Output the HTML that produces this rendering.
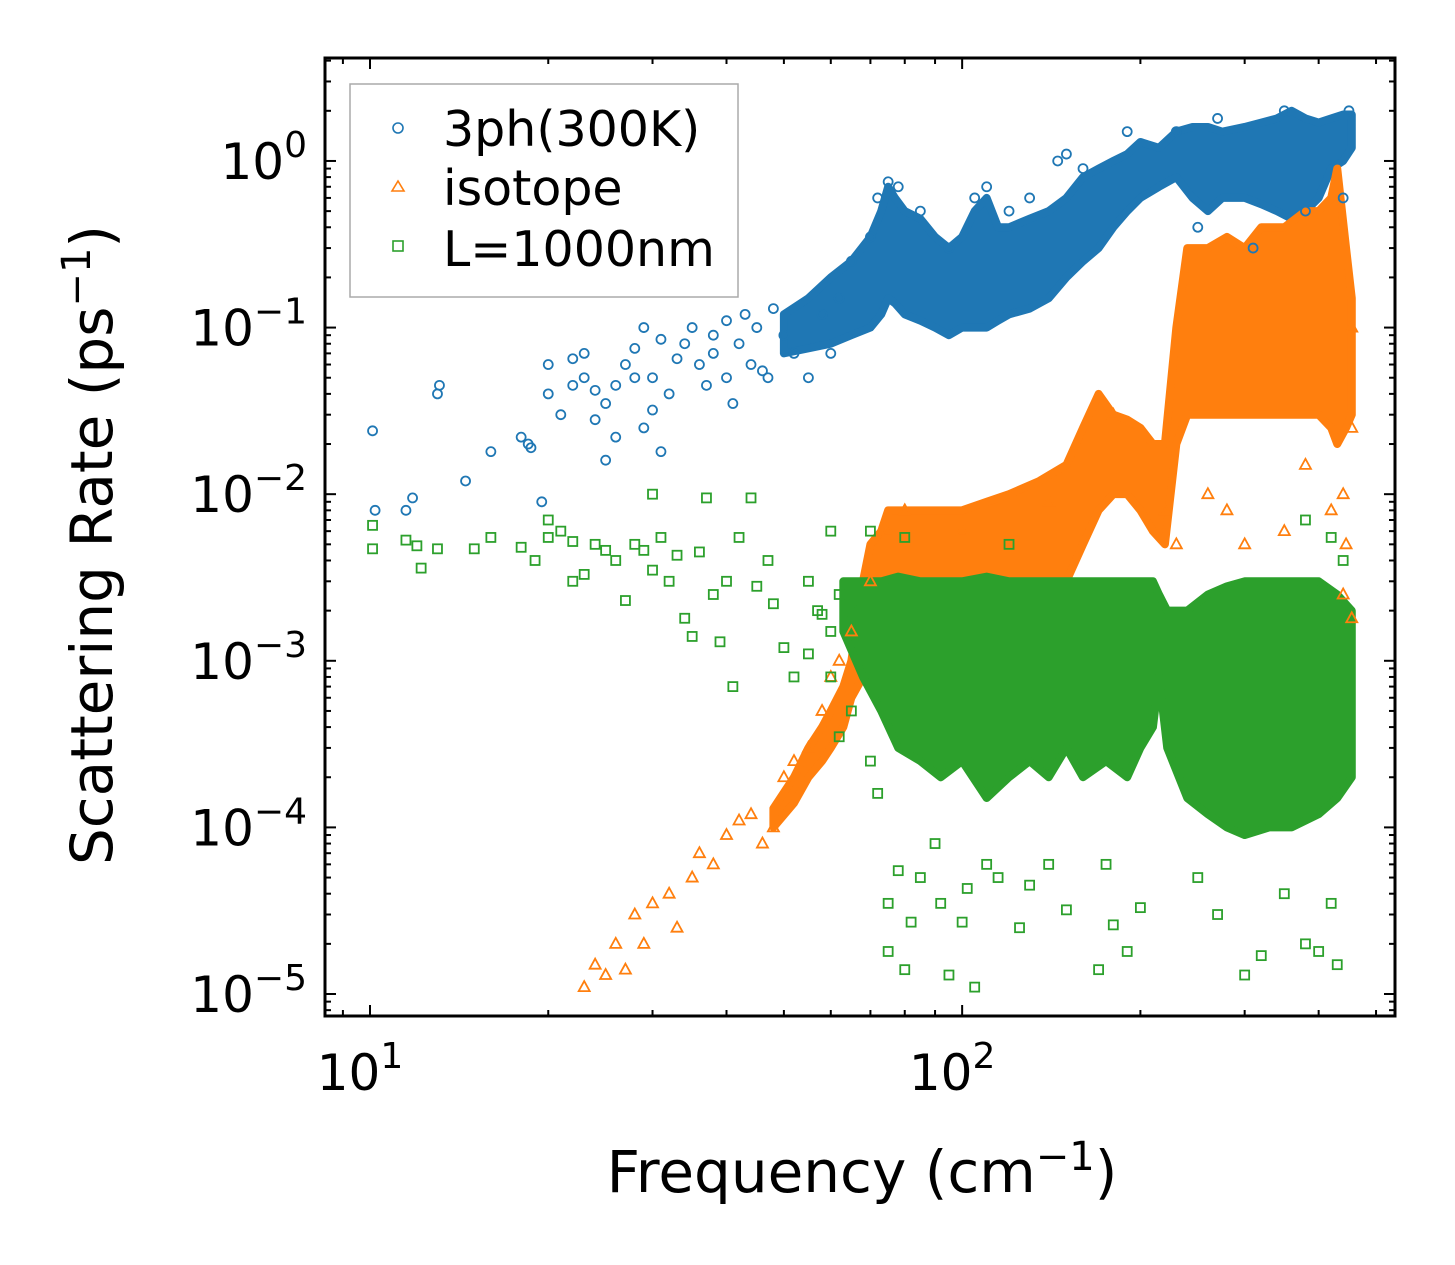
<!DOCTYPE html>
<html><head><meta charset="utf-8">
<style>
html,body{margin:0;padding:0;background:#fff;}
svg{display:block;font-family:"DejaVu Sans","Liberation Sans",sans-serif;}
</style></head>
<body>
<svg id="chart" width="1455" height="1265" viewBox="0 0 1455 1265" xmlns="http://www.w3.org/2000/svg">
<g id="bands"></g>
<g id="marks"></g>
<rect x="325" y="58" width="1070" height="958" fill="none" stroke="#000" stroke-width="3"/>
<g id="ticks"></g>
<text x="862" y="1192" font-size="58" text-anchor="middle">Frequency (cm<tspan dy="-22" font-size="40">−1</tspan><tspan dy="22">)</tspan></text>
<text transform="translate(112,545) rotate(-90)" font-size="58" text-anchor="middle">Scattering Rate (ps<tspan dy="-22" font-size="40">−1</tspan><tspan dy="22">)</tspan></text>
<g>
<rect x="350" y="84" width="388" height="213" fill="#fff" fill-opacity="0.8" stroke="#aaa" stroke-width="1.5"/>
<g><circle cx="398" cy="128" r="5" fill="none" stroke="#1f77b4" stroke-width="1.6"/><text x="443" y="146" font-size="49">3ph(300K)</text></g>
<g><polygon points="398,181 404,191 392,191" fill="none" stroke="#ff7f0e" stroke-width="1.6"/><text x="443" y="205" font-size="49">isotope</text></g>
<g><rect x="393" y="241" width="10" height="10" fill="none" stroke="#2ca02c" stroke-width="1.6"/><text x="443" y="266" font-size="49">L=1000nm</text></g>
</g>
</svg>
<script>
const blueBandF=[50,55,60,65,70,73,75,77,80,85,90,95,100,105,110,115,120,130,140,150,160,170,180,190,200,215,230,245,260,275,300,320,340,360,380,400,420,440,455];
const blueBandLo=[0.07,0.075,0.08,0.09,0.1,0.12,0.15,0.14,0.12,0.11,0.1,0.09,0.1,0.1,0.1,0.11,0.12,0.13,0.15,0.2,0.25,0.3,0.4,0.5,0.6,0.7,0.8,0.6,0.5,0.6,0.6,0.55,0.5,0.45,0.5,0.6,0.9,1.0,1.2];
const blueBandHi=[0.12,0.15,0.2,0.25,0.35,0.5,0.7,0.6,0.5,0.45,0.35,0.3,0.35,0.5,0.6,0.4,0.4,0.45,0.5,0.6,0.8,0.9,1.0,1.1,1.3,1.2,1.5,1.6,1.6,1.5,1.6,1.7,1.8,2.0,1.8,1.7,1.8,1.9,1.9];
const orangeBandF=[48,52,55,58,60,63,65,68,70,73,75,80,90,100,110,120,135,150,160,170,180,190,200,210,220,230,240,260,280,300,320,350,380,400,420,430,445,455];
const orangeBandLo=[1e-4,1.4e-4,2e-4,2.5e-4,3e-4,4e-4,6e-4,8e-4,1e-3,1.3e-3,1.5e-3,1.5e-3,2e-3,2e-3,2e-3,2e-3,2.5e-3,3e-3,5e-3,8e-3,1e-2,1e-2,8e-3,6e-3,5e-3,2e-2,3e-2,3e-2,3e-2,3e-2,3e-2,3e-2,3e-2,3e-2,2.5e-2,2e-2,2.5e-2,3e-2];
const orangeBandHi=[1.3e-4,2e-4,3e-4,4e-4,5e-4,7e-4,1e-3,3e-3,5e-3,6e-3,8e-3,8e-3,8e-3,8e-3,9e-3,1e-2,1.2e-2,1.5e-2,2.5e-2,4e-2,3e-2,2.8e-2,2.5e-2,2e-2,2e-2,1e-1,3e-1,3e-1,3.5e-1,3e-1,4e-1,4e-1,5e-1,5e-1,6e-1,9e-1,3e-1,1.5e-1];
const greenBandF=[63,68,73,78,85,92,100,110,120,130,140,150,160,175,190,200,210,215,222,240,260,280,300,330,360,400,430,455];
const greenBandLo=[1.5e-3,8e-4,5e-4,3e-4,2.5e-4,2e-4,2.5e-4,1.5e-4,2e-4,2.5e-4,2e-4,3e-4,2e-4,2.5e-4,2e-4,3e-4,4e-4,8e-4,3e-4,1.5e-4,1.2e-4,1e-4,9e-5,1e-4,1e-4,1.2e-4,1.5e-4,2e-4];
const greenBandHi=[3e-3,3e-3,3e-3,3.2e-3,3e-3,3e-3,3e-3,3.2e-3,3e-3,3e-3,3e-3,3e-3,3e-3,3e-3,3e-3,3e-3,3e-3,2.5e-3,2e-3,2e-3,2.5e-3,2.8e-3,3e-3,3e-3,3e-3,3e-3,2.5e-3,2e-3];
const blueF=[10.1,10.2,11.5,11.8,13,13.1,14.5,16,18,18.5,18.7,19.5,20,20,21,22,22,23,23,24,24,25,25,26,26,27,28,28,29,29,30,30,31,31,32,33,34,35,36,37,38,38,40,40,41,42,43,44,45,46,47,48,50,52,55,58,60,62,65,70,72,75,78,85,95,105,110,120,130,145,150,160,190,230,250,270,310,350,380,450,440];
const blueR=[0.024,0.008,0.008,0.0095,0.04,0.045,0.012,0.018,0.022,0.02,0.019,0.009,0.04,0.06,0.03,0.045,0.065,0.05,0.07,0.028,0.042,0.035,0.016,0.022,0.045,0.06,0.075,0.05,0.025,0.1,0.05,0.032,0.085,0.018,0.04,0.065,0.08,0.1,0.06,0.045,0.09,0.07,0.11,0.05,0.035,0.08,0.12,0.06,0.1,0.055,0.05,0.13,0.09,0.07,0.05,0.12,0.07,0.15,0.25,0.35,0.6,0.75,0.7,0.5,0.3,0.6,0.7,0.5,0.6,1.0,1.1,0.9,1.5,1.5,0.4,1.8,0.3,2.0,0.5,2.0,0.6];
const orangeF=[23,24,25,26,27,28,29,30,32,33,35,36,38,40,42,44,46,48,50,52,55,58,60,62,65,70,75,80,100,140,180,220,230,260,280,300,350,380,420,440,440,445,455,455,455];
const orangeR=[1.1e-5,1.5e-5,1.3e-5,2e-5,1.4e-5,3e-5,2e-5,3.5e-5,4e-5,2.5e-5,5e-5,7e-5,6e-5,9e-5,1.1e-4,1.2e-4,8e-5,1e-4,2e-4,2.5e-4,3e-4,5e-4,8e-4,1e-3,1.5e-3,3e-3,6e-3,8e-3,6e-3,9e-3,3e-2,8e-3,5e-3,1e-2,8e-3,5e-3,6e-3,1.5e-2,8e-3,1e-2,2.5e-3,5e-3,2.5e-2,0.1,1.8e-3];
const greenF=[10.1,10.1,11.5,12,12.2,13,15,16,18,19,20,20,21,22,22,23,24,25,26,27,28,29,30,30,31,32,33,34,35,36,37,38,39,40,41,42,44,45,47,48,50,52,55,58,60,62,65,70,72,75,75,78,80,82,85,90,92,95,100,102,105,110,115,125,130,140,150,170,175,180,190,200,250,270,300,320,350,380,400,430,420,420,440,380,120,70,80,60,55,57,60,62,65,68];
const greenR=[0.0065,0.0047,0.0053,0.0049,0.0036,0.0047,0.0047,0.0055,0.0048,0.004,0.007,0.0055,0.006,0.003,0.0052,0.0033,0.005,0.0046,0.004,0.0023,0.005,0.0046,0.0035,0.01,0.0055,0.003,0.0043,0.0018,0.0014,0.0045,0.0095,0.0025,0.0013,0.003,0.0007,0.0055,0.0095,0.0028,0.004,0.0022,0.0012,0.0008,0.0011,0.0019,0.0008,0.00035,0.0005,0.00025,0.00016,3.5e-5,1.8e-5,5.5e-5,1.4e-5,2.7e-5,5e-5,8e-5,3.5e-5,1.3e-5,2.7e-5,4.3e-5,1.1e-5,6e-5,5e-5,2.5e-5,4.5e-5,6e-5,3.2e-5,1.4e-5,6e-5,2.6e-5,1.8e-5,3.3e-5,5e-5,3e-5,1.3e-5,1.7e-5,4e-5,2e-5,1.8e-5,1.5e-5,3.5e-5,0.0055,0.004,0.007,0.005,0.006,0.0055,0.006,0.003,0.002,0.0015,0.0025,0.002,0.0012];
const xTickLabels=["1","2"];
const yTickExps=[0,-1,-2,-3,-4,-5];

const NS="http://www.w3.org/2000/svg";
const X0=325,X1=1395,Y0=58,Y1=1016;
const xLmin=0.924,xLmax=2.731,yLmin=-5.132,yLmax=0.618;
function sx(f){return X0+(Math.log10(f)-xLmin)/(xLmax-xLmin)*(X1-X0);}
function sy(v){return Y1-(Math.log10(v)-yLmin)/(yLmax-yLmin)*(Y1-Y0);}
function mk(tag,attrs,parent){const e=document.createElementNS(NS,tag);for(const k in attrs)e.setAttribute(k,attrs[k]);parent.appendChild(e);return e;}
const bands=document.getElementById('bands'),marks=document.getElementById('marks'),ticks=document.getElementById('ticks');
function band(F,Lo,Hi,color,name){
  let pts=[];
  for(let i=0;i<F.length;i++)pts.push(sx(F[i])+','+sy(Hi[i]));
  for(let i=F.length-1;i>=0;i--)pts.push(sx(F[i])+','+sy(Lo[i]));
  const p=mk('polygon',{points:pts.join(' '),fill:color,stroke:color,'stroke-width':8,'stroke-linejoin':'round'},bands);
  
  
}
function circles(F,R){for(let i=0;i<F.length;i++){const c=mk('circle',{cx:sx(F[i]),cy:sy(R[i]),r:4.5,fill:'none',stroke:'#1f77b4','stroke-width':1.8},marks);

}}
function tris(F,R){for(let i=0;i<F.length;i++){const x=sx(F[i]),y=sy(R[i]);const t=mk('polygon',{points:`${x},${y-6} ${x+5.5},${y+4} ${x-5.5},${y+4}`,fill:'none',stroke:'#ff7f0e','stroke-width':1.8},marks);

}}
function squares(F,R){for(let i=0;i<F.length;i++){const x=sx(F[i]),y=sy(R[i]);const s=mk('rect',{x:x-4.5,y:y-4.5,width:9,height:9,fill:'none',stroke:'#2ca02c','stroke-width':1.8},marks);

}}
band(blueBandF,blueBandLo,blueBandHi,'#1f77b4','band-3ph');
band(orangeBandF,orangeBandLo,orangeBandHi,'#ff7f0e','band-isotope');
band(greenBandF,greenBandLo,greenBandHi,'#2ca02c','band-boundary');
circles(blueF,blueR);tris(orangeF,orangeR);squares(greenF,greenR);
for(let d=0;d<=2;d++){for(let m=1;m<=9;m++){const f=m*Math.pow(10,d);const lf=Math.log10(f);if(lf<xLmin||lf>xLmax)continue;const x=sx(f);const L=m===1?11:6;
mk('line',{x1:x,y1:Y1,x2:x,y2:Y1-L,stroke:'#000','stroke-width':2},ticks);mk('line',{x1:x,y1:Y0,x2:x,y2:Y0+L,stroke:'#000','stroke-width':2},ticks);}}
xTickLabels.forEach(e=>{const x=sx(Math.pow(10,+e));const t=mk('text',{x:x-10,y:1090,'font-size':50,'text-anchor':'middle'},ticks);t.textContent='10';const s=mk('tspan',{dy:-22,'font-size':36},t);s.textContent=e;

});
for(let d=-6;d<=0;d++){for(let m=1;m<=9;m++){const v=m*Math.pow(10,d);const lv=Math.log10(v);if(lv<yLmin||lv>yLmax)continue;const y=sy(v);const L=m===1?11:6;
mk('line',{x1:X0,y1:y,x2:X0+L,y2:y,stroke:'#000','stroke-width':2},ticks);mk('line',{x1:X1,y1:y,x2:X1-L,y2:y,stroke:'#000','stroke-width':2},ticks);}}
yTickExps.forEach(e=>{const y=sy(Math.pow(10,e));const t=mk('text',{x:307,y:y+18,'font-size':50,'text-anchor':'end'},ticks);const a=mk('tspan',{},t);a.textContent='10';const s=mk('tspan',{dy:-22,'font-size':36},t);s.textContent=e===0?'0':'−'+(-e);

});
</script>
</body></html>
